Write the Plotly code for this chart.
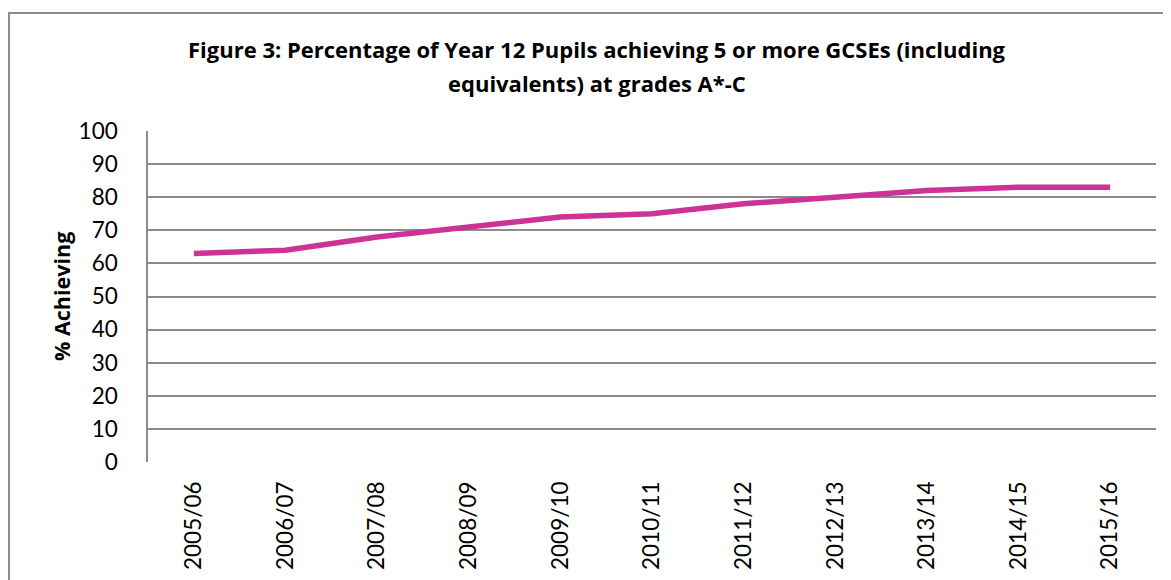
import plotly.graph_objects as go

years = ["2005/06", "2006/07", "2007/08", "2008/09", "2009/10", "2010/11",
         "2011/12", "2012/13", "2013/14", "2014/15", "2015/16"]
pct_achieving = [63, 64, 68, 71, 74, 75, 78, 80, 82, 83, 83]
y_ticks = list(range(0, 101, 10))

title_line1 = "Figure 3: Percentage of Year 12 Pupils achieving 5 or more GCSEs (including"
title_line2 = "equivalents) at grades A*-C"
y_title = "% Achieving"

# page offset of the figure inside the browser (default body margin)
OFF = 8
W, H = 1171 - OFF, 580 - OFF
L, R, T, B = 148 - OFF, 1156 - OFF, 131 - OFF, 462 - OFF
pw, ph = R - L, B - T

def px(x):
    return (x - OFF - L) / pw

def py(y):
    return (B - (y - OFF)) / ph

FONT = "Lato"
TFONT = "Open Sans"
GRID = "#8c8c8c"

fig = go.Figure()
fig.add_trace(go.Scatter(
    x=years, y=pct_achieving, mode="lines",
    line=dict(color="#CC3399", width=5.5),
    showlegend=False, hoverinfo="x+y",
))

fig.update_layout(
    width=W, height=H,
    margin=dict(l=L, r=W - R, t=T, b=H - B, autoexpand=False),
    paper_bgcolor="white", plot_bgcolor="white",
    font=dict(family=FONT, color="black"),
    xaxis=dict(
        type="category", range=[-0.5, len(years) - 0.5],
        showgrid=False, zeroline=False, automargin=False,
        showline=False, ticks="", tickangle=-90,
        tickfont=dict(size=22.5, family=FONT, color="black"),
        ticklabelstandoff=14,
    ),
    yaxis=dict(
        range=[0, 100], tickvals=y_ticks, showgrid=True, automargin=False,
        gridcolor=GRID, gridwidth=1.5, zeroline=False,
        showline=True, linecolor=GRID, linewidth=1.5, ticks="",
        tickfont=dict(size=22.5, family=FONT, color="black"),
        ticklabelstandoff=24,
    ),
    annotations=[
        dict(text="<b>%s</b>" % title_line1, xref="paper", yref="paper",
             x=px(597), y=py(49), showarrow=False, xanchor="center", yanchor="middle",
             font=dict(size=22, family=TFONT, color="black")),
        dict(text="<b>%s</b>" % title_line2, xref="paper", yref="paper",
             x=px(597), y=py(83), showarrow=False, xanchor="center", yanchor="middle",
             font=dict(size=22, family=TFONT, color="black")),
        dict(text="<b>%s</b>" % y_title, xref="paper", yref="paper",
             x=px(61), y=py(297), showarrow=False, textangle=-90,
             xanchor="center", yanchor="middle",
             font=dict(size=21.5, family=TFONT, color="black")),
    ],
    shapes=[
        dict(type="rect", xref="paper", yref="paper",
             x0=px(9), x1=px(1190), y0=py(600), y1=py(13),
             line=dict(color="#8a8a8a", width=2), fillcolor="rgba(0,0,0,0)",
             layer="below"),
    ],
)

fig.write_html("out.html")
